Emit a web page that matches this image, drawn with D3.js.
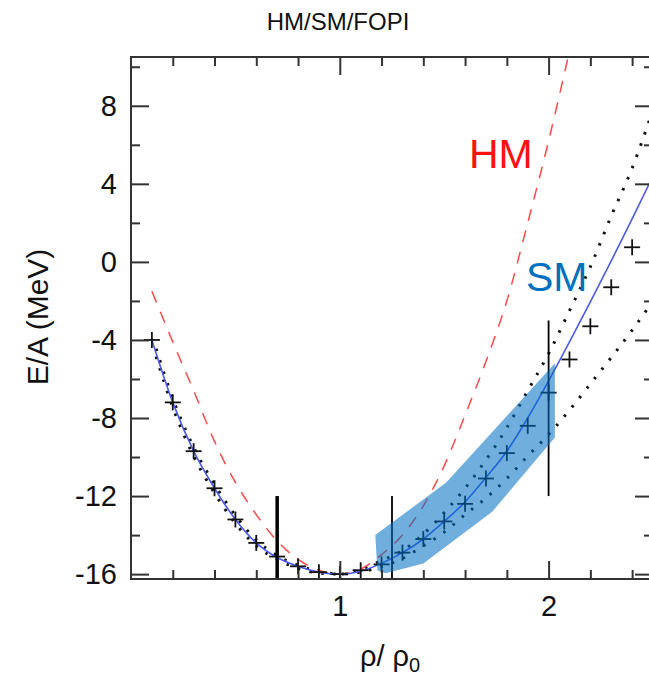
<!DOCTYPE html>
<html><head>
<meta charset="utf-8">
<title>HM/SM/FOPI</title>
<script src="https://d3js.org/d3.v7.min.js"></script>
<style>
  body { margin: 0; background: #fff; }
  text { font-family: "Liberation Sans", Arial, sans-serif; }
</style>
</head>
<body>
<svg id="plot" width="649" height="676"></svg>
<script>
// ---- data ----
const smRho = [0.1,0.2,0.3,0.4,0.5,0.6,0.7,0.8,0.9,1.0,1.1,1.2,1.3,1.4,1.5,1.6,1.7,1.8,1.9,2.0,2.1,2.2,2.3,2.4,2.5];
const smE   = [-4.0,-7.2,-9.7,-11.6,-13.2,-14.4,-15.15,-15.6,-15.9,-16.0,-15.85,-15.45,-14.9,-14.2,-13.3,-12.3,-11.05,-9.7,-8.0,-6.1,-4.1,-2.05,0.05,2.2,4.4];

const hmRho = [0.1,0.2,0.3,0.4,0.5,0.6,0.7,0.8,0.9,1.0,1.1,1.2,1.3,1.4,1.5,1.6,1.7,1.8,1.9,2.0,2.1];
const hmE   = [-1.5,-4.1,-6.6,-9.2,-11.3,-12.95,-14.3,-15.25,-15.8,-16.0,-15.75,-15.0,-14.0,-12.5,-10.45,-7.85,-5.1,-2.0,2.0,6.2,10.8];

const dotRho   = [0.12,0.2,0.3,0.4,0.5,0.6,0.7,0.8,0.9,1.0,1.1,1.2,1.3,1.4,1.5,1.6,1.7,1.8,1.9,2.0,2.1,2.2,2.3,2.4,2.5];
const dotUpper = [-4.45,-7.0,-9.5,-11.4,-13.0,-14.25,-15.05,-15.55,-15.85,-16.0,-15.75,-15.3,-14.8,-13.95,-12.85,-11.6,-10.15,-8.5,-6.6,-4.7,-2.5,-0.25,2.35,4.8,7.8];
const dotLower = [-4.85,-7.45,-9.95,-11.85,-13.4,-14.55,-15.25,-15.7,-15.95,-16.0,-15.9,-15.6,-15.2,-14.55,-13.85,-12.95,-12.1,-11.1,-9.95,-8.85,-7.6,-6.25,-4.9,-3.5,-2.0];

const crossRho = [0.1,0.2,0.3,0.4,0.5,0.6,0.7,0.8,0.9,1.0,1.1,1.2,1.3,1.4,1.5,1.6,1.7,1.8,1.9,2.0,2.1,2.2,2.3,2.4];
const crossE   = [-4.0,-7.2,-9.7,-11.6,-13.2,-14.4,-15.1,-15.6,-15.9,-16.0,-15.8,-15.5,-14.9,-14.2,-13.3,-12.4,-11.1,-9.8,-8.4,-6.7,-5.0,-3.3,-1.3,0.75];

const barRho  = [0.7, 1.25, 2.0];
const barLow  = [-20, -20, -12];
const barHigh = [-12, -12, -3];

const bandRho = [1.17,1.18,1.22,1.40,1.73,2.03,2.03,1.51];
const bandE   = [-14.0,-15.8,-15.95,-15.45,-12.8,-9.0,-5.2,-11.3];

const yMajor = [-16,-12,-8,-4,0,4,8];
const yMinor = [-14,-10,-6,-2,2,6,10];
const xMajor = [1,2];
const xMinor = [0.2,0.4,0.6,0.8,1.2,1.4,1.6,1.8,2.2,2.4];

// ---- layout ----
const svg = d3.select("svg#plot");
const margin = {left: 131, right: 653, top: 57, bottom: 579};

const x = d3.scaleLinear().domain([0, 2.5]).range([margin.left, margin.right]);
const y = d3.scaleLinear().domain([-16.25, 10.5]).range([margin.bottom, margin.top]);

svg.append("defs").append("clipPath").attr("id", "clip")
   .append("rect").attr("x", margin.left).attr("y", margin.top)
   .attr("width", margin.right - margin.left).attr("height", margin.bottom - margin.top);

const chart = svg.append("g").attr("clip-path", "url(#clip)");

const line = d3.line().x(d => x(d[0])).y(d => y(d[1])).curve(d3.curveMonotoneX);

// dotted bounds
[dotUpper, dotLower].forEach(arr => {
  chart.append("path")
       .attr("d", line(dotRho.map((r, i) => [r, arr[i]])))
       .attr("fill", "none")
       .attr("stroke", "#111")
       .attr("stroke-width", 3)
       .attr("stroke-dasharray", "2.5 9.5");
});

// HM dashed
chart.append("path")
     .attr("d", line(hmRho.map((r, i) => [r, hmE[i]])))
     .attr("fill", "none")
     .attr("stroke", "#ff4a4a")
     .attr("stroke-width", 1.5)
     .attr("stroke-dasharray", "12 10");

// SM solid
chart.append("path")
     .attr("d", line(smRho.map((r, i) => [r, smE[i]])))
     .attr("fill", "none")
     .attr("stroke", "#4a5af2")
     .attr("stroke-width", 1.6);

// crosses
const cross = chart.append("g").attr("stroke", "#111").attr("stroke-width", 1.8);
crossRho.forEach((r, i) => {
  const cx = x(r), cy = y(crossE[i]);
  cross.append("line").attr("x1", cx - 8).attr("x2", cx + 8).attr("y1", cy).attr("y2", cy);
  cross.append("line").attr("x1", cx).attr("x2", cx).attr("y1", cy - 8).attr("y2", cy + 8);
});

// error bars
barRho.forEach((r, i) => {
  chart.append("line")
       .attr("x1", x(r)).attr("x2", x(r))
       .attr("y1", y(barLow[i])).attr("y2", y(barHigh[i]))
       .attr("stroke", "#000")
       .attr("stroke-width", i === 0 ? 3.5 : 1.8);
});

// FOPI band
chart.append("path")
     .attr("d", d3.line()(bandRho.map((r, i) => [x(r), y(bandE[i])])) + "Z")
     .attr("fill", "rgb(0,110,195)")
     .attr("fill-opacity", 0.56);

// ---- axes ----
const axisColor = "#333";
const fmt = d => String(d);   // plain hyphen minus like the original
function styleAxis(g) {
  g.select(".domain").remove();
  g.selectAll("line").attr("stroke", axisColor).attr("stroke-width", 2);
  g.selectAll("text").attr("fill", "#111").style("font-family", "'Liberation Sans', Arial, sans-serif");
}

svg.append("g").attr("transform", `translate(${margin.left},0)`)
   .call(d3.axisLeft(y).tickValues(yMajor).tickSize(-18).tickPadding(14).tickFormat(fmt))
   .call(styleAxis).selectAll("text").style("font-size", "29px");
svg.append("g").attr("transform", `translate(${margin.left},0)`)
   .call(d3.axisLeft(y).tickValues(yMinor).tickSize(-9).tickFormat(""))
   .call(styleAxis);
svg.append("g").attr("transform", `translate(${margin.right},0)`)
   .call(d3.axisRight(y).tickValues(yMajor).tickSize(-18).tickFormat(""))
   .call(styleAxis);
svg.append("g").attr("transform", `translate(${margin.right},0)`)
   .call(d3.axisRight(y).tickValues(yMinor).tickSize(-9).tickFormat(""))
   .call(styleAxis);

svg.append("g").attr("transform", `translate(0,${margin.bottom})`)
   .call(d3.axisBottom(x).tickValues(xMajor).tickSize(-18).tickPadding(16).tickFormat(fmt))
   .call(styleAxis).selectAll("text").style("font-size", "29px");
svg.append("g").attr("transform", `translate(0,${margin.bottom})`)
   .call(d3.axisBottom(x).tickValues(xMinor).tickSize(-9).tickFormat(""))
   .call(styleAxis);
svg.append("g").attr("transform", `translate(0,${margin.top})`)
   .call(d3.axisTop(x).tickValues(xMajor).tickSize(-18).tickFormat(""))
   .call(styleAxis);
svg.append("g").attr("transform", `translate(0,${margin.top})`)
   .call(d3.axisTop(x).tickValues(xMinor).tickSize(-9).tickFormat(""))
   .call(styleAxis);

// frame
svg.append("rect")
   .attr("x", margin.left).attr("y", margin.top)
   .attr("width", margin.right - margin.left).attr("height", margin.bottom - margin.top)
   .attr("fill", "none").attr("stroke", axisColor).attr("stroke-width", 2);

// labels
svg.append("text").attr("x", 338).attr("y", 30)
   .attr("text-anchor", "middle")
   .style("font-size", "24px").attr("fill", "#111")
   .text("HM/SM/FOPI");

svg.append("text").attr("transform", "translate(48,317) rotate(-90)")
   .attr("text-anchor", "middle").style("font-size", "30px").attr("fill", "#111")
   .text("E/A (MeV)");

const xl = svg.append("text").attr("x", 360).attr("y", 666)
   .style("font-size", "29px").attr("fill", "#111");
xl.append("tspan").text("ρ/ ρ");
xl.append("tspan").attr("dy", 6).style("font-size", "20px").text("0");

svg.append("text").attr("x", 469).attr("y", 168)
   .style("font-size", "41px").attr("fill", "#ff1010").text("HM");
svg.append("text").attr("x", 526).attr("y", 291)
   .style("font-size", "41px").attr("fill", "#0070c0").text("SM");
</script>
</body>
</html>
